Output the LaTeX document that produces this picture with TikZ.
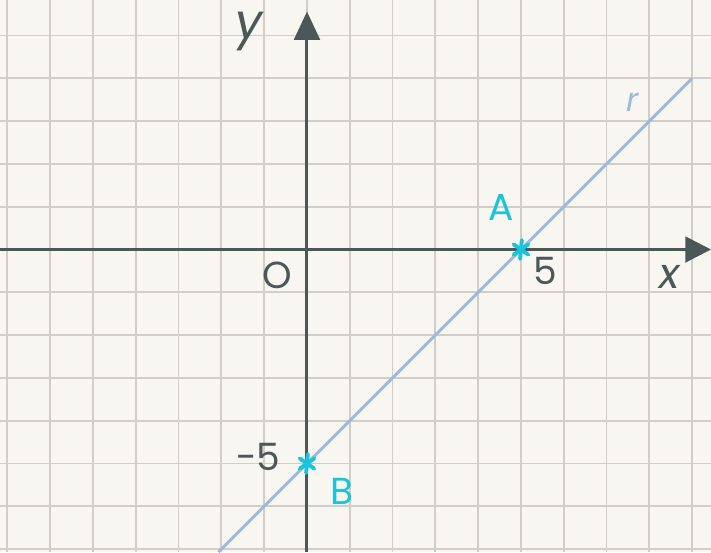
\documentclass[tikz,border=0pt]{standalone}
\usepackage{fontspec}
\setmainfont{Poppins}
\usetikzlibrary{arrows.meta}
\definecolor{paper}{HTML}{F8F6F1}
\definecolor{gridc}{HTML}{D2CEC7}
\definecolor{axisc}{HTML}{4B5858}
\definecolor{linec}{HTML}{9DB9DE}
\definecolor{cyanc}{HTML}{1CC3DC}
\tikzset{
  gridline/.style={gridc, line width=1.2pt},
  axisline/.style={axisc, line width=2pt},
  rline/.style={linec, line width=2pt},
  ptmark/.style={cyanc, line width=2.6pt, line cap=round},
  axlabel/.style={text=axisc, font=\fontsize{25}{25}\selectfont, inner sep=0pt},
  ptlabel/.style={text=cyanc, font=\fontsize{25}{25}\selectfont, inner sep=0pt},
  varlabel/.style={text=axisc, font=\fontsize{28}{28}\selectfont\itshape, inner sep=0pt},
}
\begin{document}
\begin{tikzpicture}
\fill[paper] (-7.173,-7.07) rectangle (9.44,5.83);
\useasboundingbox (-7.173,-7.07) rectangle (9.44,5.83);
% grid
\foreach \x in {-7,...,9} \draw[gridline] (\x,-7.07) -- (\x,5.83);
\foreach \y in {-7,...,5} \draw[gridline] (-7.173,\y) -- (9.44,\y);
% axes
\coordinate (xl) at (-7.173,0);
\coordinate (xr) at (9.44,0);
\coordinate (yb) at (0,-7.07);
\coordinate (yt) at (0,5.56);
\draw[axisline, -{Triangle[length=0.6cm,width=0.6cm]}] (xl) -- (xr);
\draw[axisline, -{Triangle[length=0.66cm,width=0.6cm]}] (yb) -- (yt);
% line r
\coordinate (rb) at (-2.07,-7.07);
\coordinate (rt) at (9,4);
\draw[rline] (rb) -- (rt);
% points
\coordinate (A) at (5,0);
\coordinate (B) at (0,-5);
\foreach \p in {A,B}{
  \draw[ptmark] ([shift={(-0.02,-0.22)}]\p) -- ([shift={(0.02,0.22)}]\p);
  \draw[ptmark] ([shift={(-0.17,-0.12)}]\p) -- ([shift={(0.17,0.12)}]\p);
  \draw[ptmark] ([shift={(-0.17,0.12)}]\p) -- ([shift={(0.17,-0.12)}]\p);
}
% labels
\node[ptlabel] (lA) at (4.53,0.99) {A};
\node[ptlabel] (lB) at (0.82,-5.65) {B};
\node[axlabel] (l5) at (5.57,-0.50) {5};
\node[axlabel] (lm5) at (-1.14,-4.85) {-5};
\node[axlabel] (lO) at (-0.70,-0.60) {O};
\node[varlabel, anchor=base] (lx) at (8.48,-0.90) {x};
\node[varlabel, font=\fontsize{32}{32}\selectfont\itshape, anchor=base] (ly) at (-1.36,4.94) {y};
\node[varlabel, text=linec, font=\fontsize{22}{22}\selectfont\itshape, anchor=base] (lr) at (7.6,3.22) {r};
\end{tikzpicture}
\end{document}
